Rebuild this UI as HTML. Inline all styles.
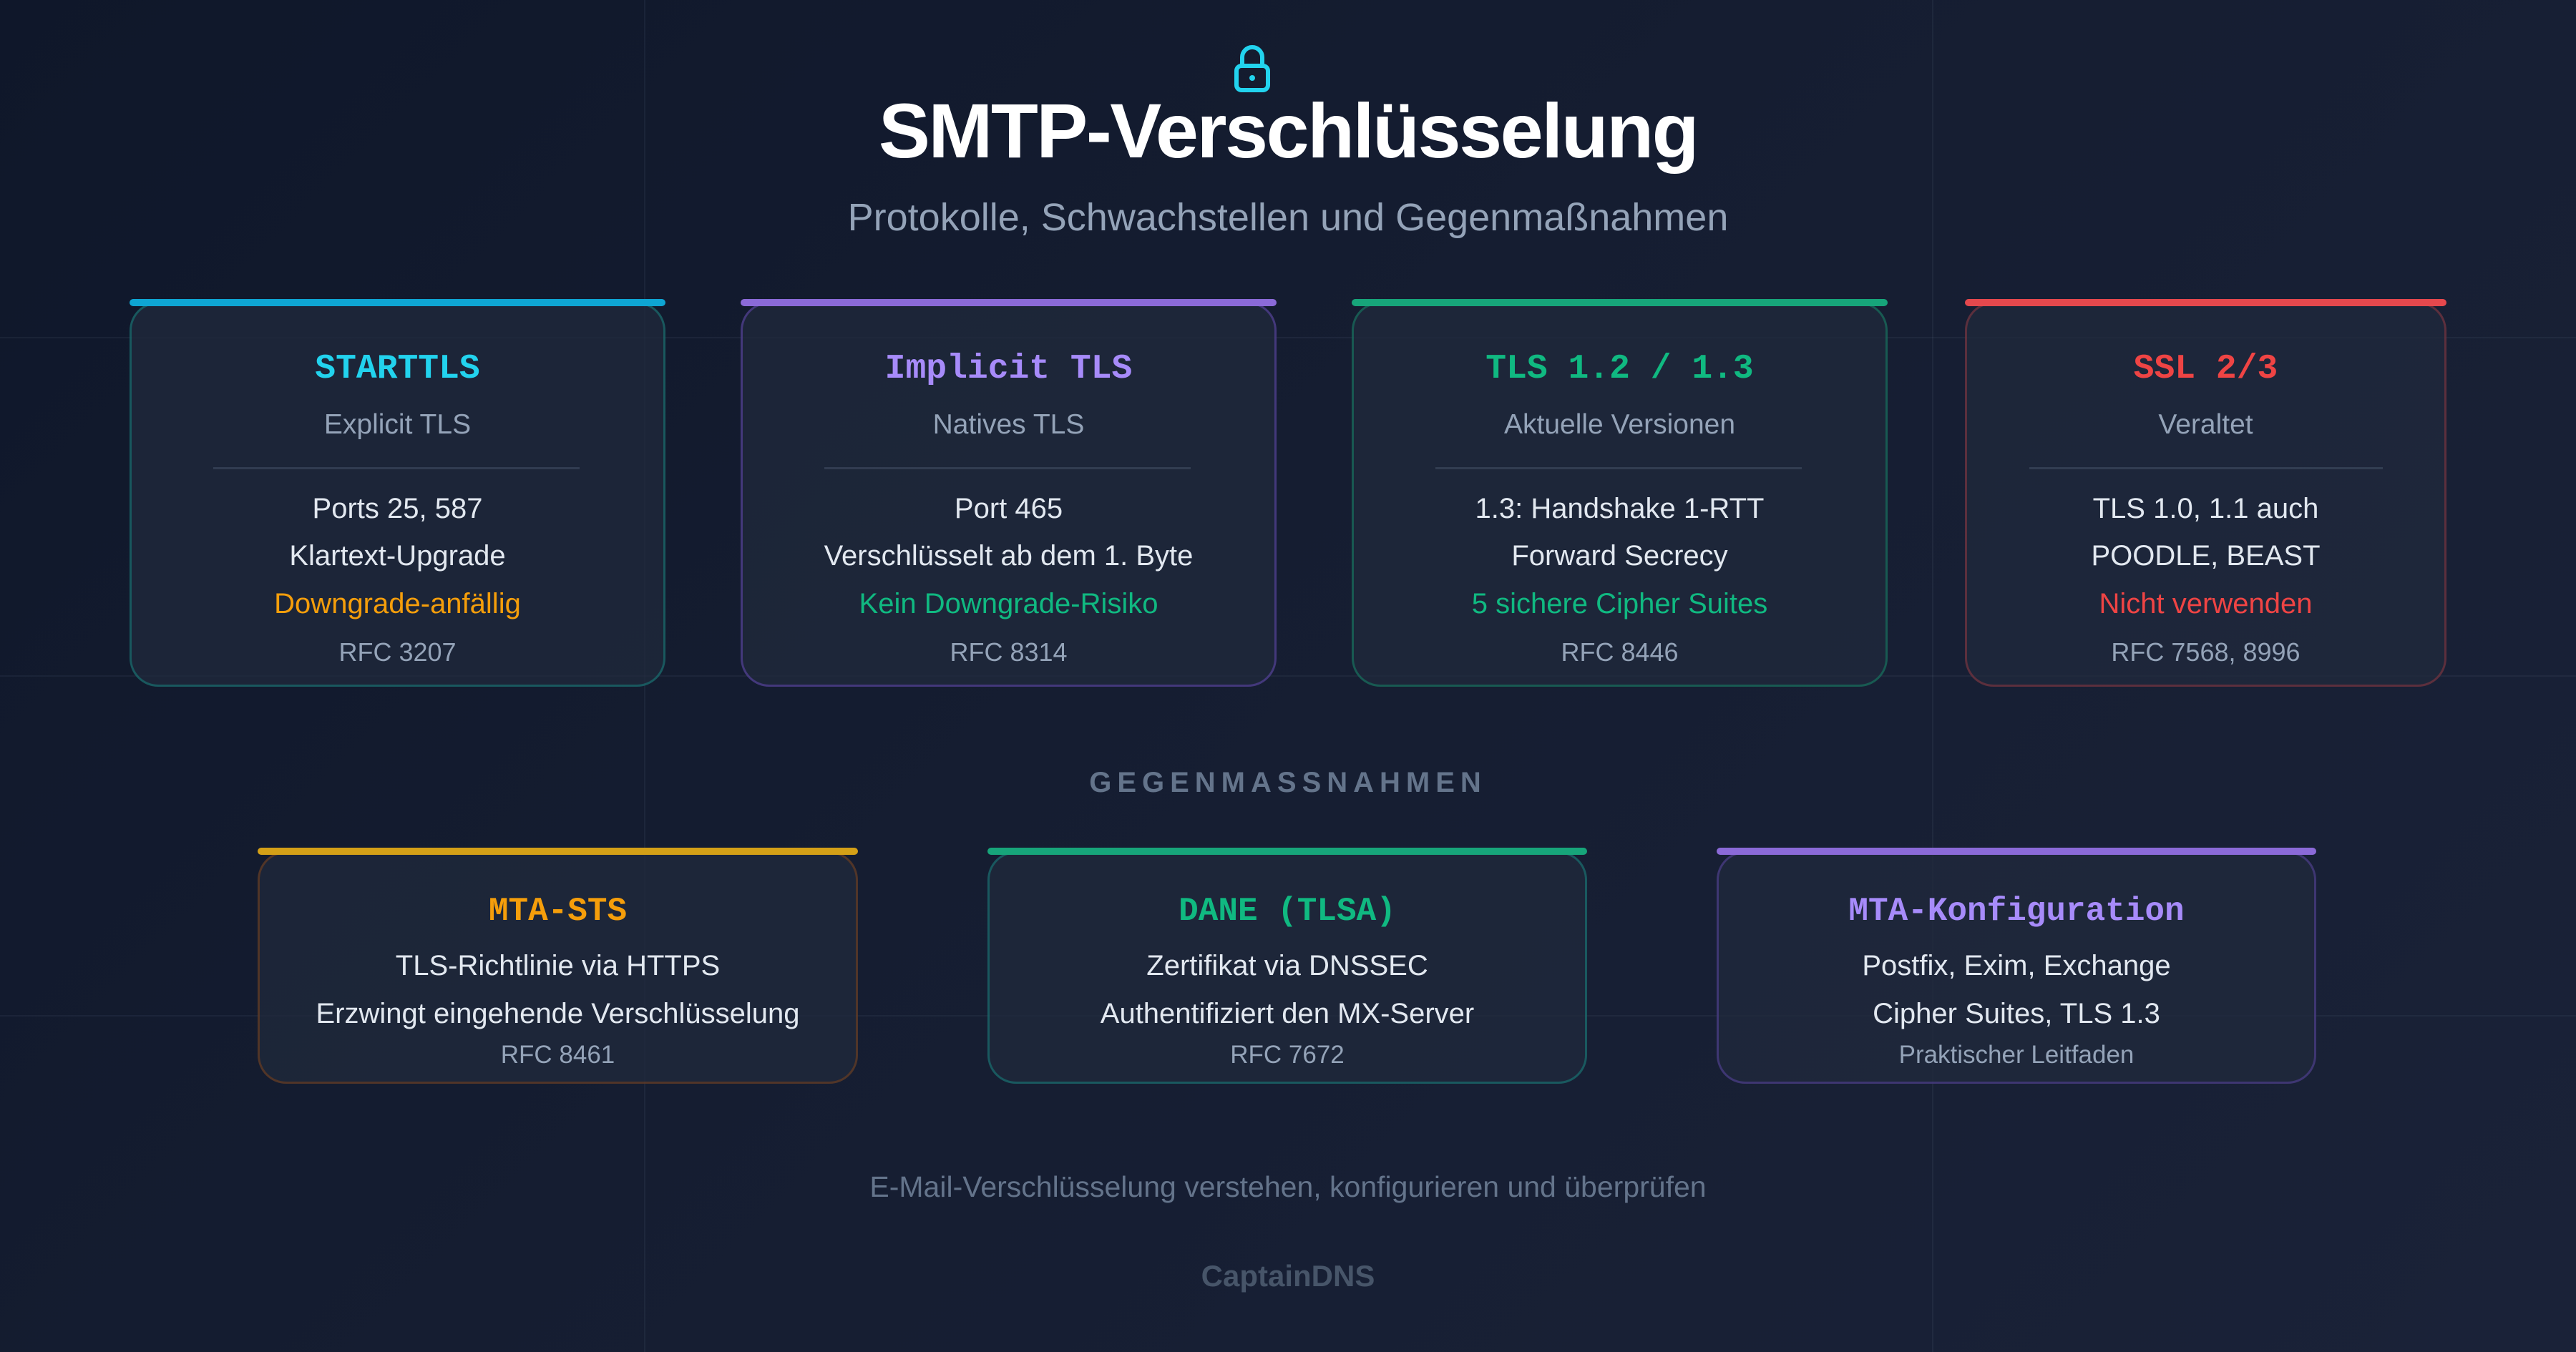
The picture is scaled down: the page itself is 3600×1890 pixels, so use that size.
<!DOCTYPE html>
<html><head><meta charset="utf-8"><style>
*{margin:0;padding:0;box-sizing:border-box}
body{width:3600px;height:1890px;overflow:hidden;background:linear-gradient(135deg,#0f172a 0%,#151d31 45%,#1a2238 100%);font-family:"Liberation Sans",sans-serif;position:relative}
.gl{position:absolute;background:rgba(100,116,139,0.12)}
.c{position:absolute;text-align:center;white-space:nowrap}
.card{position:absolute;border-radius:40px;background:rgba(32,42,60,0.75);border:3px solid}
.bar{position:absolute;height:10px;border-radius:5px}
.mono{font-family:"Liberation Mono",monospace;font-weight:bold}
</style></head><body>
<div class="gl" style="left:900px;top:0;width:2px;height:1890px"></div>
<div class="gl" style="left:2700px;top:0;width:2px;height:1890px"></div>
<div class="gl" style="left:0;top:471px;width:3600px;height:2px"></div>
<div class="gl" style="left:0;top:944px;width:3600px;height:2px"></div>
<div class="gl" style="left:0;top:1419px;width:3600px;height:2px"></div>

<svg style="position:absolute;left:1722px;top:60px" width="56" height="72" viewBox="0 0 56 72"><path d="M14 32 V20 a14 14 0 0 1 28 0 V32" fill="none" stroke="#22d3ee" stroke-width="6"/><rect x="6" y="32" width="44" height="34" rx="7" fill="none" stroke="#22d3ee" stroke-width="6"/><circle cx="28" cy="49" r="4" fill="#22d3ee"/></svg>
<div class="c" style="left:0;width:3600px;top:120px;font-size:108px;font-weight:bold;color:#fff;letter-spacing:-2.5px">SMTP-Verschlüsselung</div>
<div class="c" style="left:0;width:3600px;top:273px;font-size:54px;color:#94a3b8">Protokolle, Schwachstellen und Gegenmaßnahmen</div>

<div class="card" style="left:181px;top:422px;width:749px;height:538px;border-color:rgba(20,184,166,0.35)"></div>
<div class="bar" style="left:181px;top:418px;width:749px;background:#0ea5d3"></div>
<div class="card" style="left:1035px;top:422px;width:749px;height:538px;border-color:rgba(139,92,246,0.35)"></div>
<div class="bar" style="left:1035px;top:418px;width:749px;background:#8b6ad8"></div>
<div class="card" style="left:1889px;top:422px;width:749px;height:538px;border-color:rgba(16,185,129,0.35)"></div>
<div class="bar" style="left:1889px;top:418px;width:749px;background:#17a57a"></div>
<div class="card" style="left:2746px;top:422px;width:673px;height:538px;border-color:rgba(239,68,68,0.3)"></div>
<div class="bar" style="left:2746px;top:418px;width:673px;background:#e5484d"></div>

<div style="position:absolute;left:298px;top:653px;width:512px;height:3px;background:rgba(100,116,139,0.3)"></div>
<div style="position:absolute;left:1152px;top:653px;width:512px;height:3px;background:rgba(100,116,139,0.3)"></div>
<div style="position:absolute;left:2006px;top:653px;width:512px;height:3px;background:rgba(100,116,139,0.3)"></div>
<div style="position:absolute;left:2836px;top:653px;width:494px;height:3px;background:rgba(100,116,139,0.3)"></div>

<div class="c mono" style="left:181px;width:749px;top:489px;font-size:48px;color:#22d3ee">STARTTLS</div>
<div class="c" style="left:181px;width:749px;top:572px;font-size:39px;color:#94a3b8">Explicit TLS</div>
<div class="c" style="left:181px;width:749px;top:689px;font-size:40px;color:#e2e8f0">Ports 25, 587</div>
<div class="c" style="left:181px;width:749px;top:755px;font-size:40px;color:#e2e8f0">Klartext-Upgrade</div>
<div class="c" style="left:181px;width:749px;top:822px;font-size:40px;color:#f59e0b">Downgrade-anfällig</div>
<div class="c" style="left:181px;width:749px;top:891px;font-size:36px;color:#94a3b8">RFC 3207</div>

<div class="c mono" style="left:1035px;width:749px;top:489px;font-size:48px;color:#a78bfa">Implicit TLS</div>
<div class="c" style="left:1035px;width:749px;top:572px;font-size:39px;color:#94a3b8">Natives TLS</div>
<div class="c" style="left:1035px;width:749px;top:689px;font-size:40px;color:#e2e8f0">Port 465</div>
<div class="c" style="left:1035px;width:749px;top:755px;font-size:40px;color:#e2e8f0">Verschlüsselt ab dem 1. Byte</div>
<div class="c" style="left:1035px;width:749px;top:822px;font-size:40px;color:#10b981">Kein Downgrade-Risiko</div>
<div class="c" style="left:1035px;width:749px;top:891px;font-size:36px;color:#94a3b8">RFC 8314</div>

<div class="c mono" style="left:1889px;width:749px;top:489px;font-size:48px;color:#10b981">TLS 1.2 / 1.3</div>
<div class="c" style="left:1889px;width:749px;top:572px;font-size:39px;color:#94a3b8">Aktuelle Versionen</div>
<div class="c" style="left:1889px;width:749px;top:689px;font-size:40px;color:#e2e8f0">1.3: Handshake 1-RTT</div>
<div class="c" style="left:1889px;width:749px;top:755px;font-size:40px;color:#e2e8f0">Forward Secrecy</div>
<div class="c" style="left:1889px;width:749px;top:822px;font-size:40px;color:#10b981">5 sichere Cipher Suites</div>
<div class="c" style="left:1889px;width:749px;top:891px;font-size:36px;color:#94a3b8">RFC 8446</div>

<div class="c mono" style="left:2746px;width:673px;top:489px;font-size:48px;color:#ef4444">SSL 2/3</div>
<div class="c" style="left:2746px;width:673px;top:572px;font-size:39px;color:#94a3b8">Veraltet</div>
<div class="c" style="left:2746px;width:673px;top:689px;font-size:40px;color:#e2e8f0">TLS 1.0, 1.1 auch</div>
<div class="c" style="left:2746px;width:673px;top:755px;font-size:40px;color:#e2e8f0">POODLE, BEAST</div>
<div class="c" style="left:2746px;width:673px;top:822px;font-size:40px;color:#ef4444">Nicht verwenden</div>
<div class="c" style="left:2746px;width:673px;top:891px;font-size:36px;color:#94a3b8">RFC 7568, 8996</div>

<div class="c" style="left:0;width:3600px;top:1072px;font-size:40px;color:#64748b;letter-spacing:8px;font-weight:bold">GEGENMASSNAHMEN</div>

<div class="card" style="left:360px;top:1190px;width:839px;height:325px;border-color:rgba(180,83,9,0.35)"></div>
<div class="bar" style="left:360px;top:1185px;width:839px;background:#d4a017"></div>
<div class="card" style="left:1380px;top:1190px;width:838px;height:325px;border-color:rgba(20,184,166,0.35)"></div>
<div class="bar" style="left:1380px;top:1185px;width:838px;background:#17a57a"></div>
<div class="card" style="left:2399px;top:1190px;width:838px;height:325px;border-color:rgba(139,92,246,0.3)"></div>
<div class="bar" style="left:2399px;top:1185px;width:838px;background:#8b6ad8"></div>

<div class="c mono" style="left:360px;width:839px;top:1248px;font-size:46px;color:#f59e0b">MTA-STS</div>
<div class="c" style="left:360px;width:839px;top:1328px;font-size:40px;color:#e2e8f0">TLS-Richtlinie via HTTPS</div>
<div class="c" style="left:360px;width:839px;top:1395px;font-size:40px;color:#e2e8f0">Erzwingt eingehende Verschlüsselung</div>
<div class="c" style="left:360px;width:839px;top:1455px;font-size:35px;color:#94a3b8">RFC 8461</div>

<div class="c mono" style="left:1380px;width:838px;top:1248px;font-size:46px;color:#10b981">DANE (TLSA)</div>
<div class="c" style="left:1380px;width:838px;top:1328px;font-size:40px;color:#e2e8f0">Zertifikat via DNSSEC</div>
<div class="c" style="left:1380px;width:838px;top:1395px;font-size:40px;color:#e2e8f0">Authentifiziert den MX-Server</div>
<div class="c" style="left:1380px;width:838px;top:1455px;font-size:35px;color:#94a3b8">RFC 7672</div>

<div class="c mono" style="left:2399px;width:838px;top:1248px;font-size:46px;color:#a78bfa">MTA-Konfiguration</div>
<div class="c" style="left:2399px;width:838px;top:1328px;font-size:40px;color:#e2e8f0">Postfix, Exim, Exchange</div>
<div class="c" style="left:2399px;width:838px;top:1395px;font-size:40px;color:#e2e8f0">Cipher Suites, TLS 1.3</div>
<div class="c" style="left:2399px;width:838px;top:1455px;font-size:35px;color:#94a3b8">Praktischer Leitfaden</div>

<div class="c" style="left:0;width:3600px;top:1636px;font-size:41px;color:#64748b">E-Mail-Verschlüsselung verstehen, konfigurieren und überprüfen</div>
<div class="c" style="left:0;width:3600px;top:1760px;font-size:42px;color:#475569;font-weight:bold">CaptainDNS</div>
</body></html>
